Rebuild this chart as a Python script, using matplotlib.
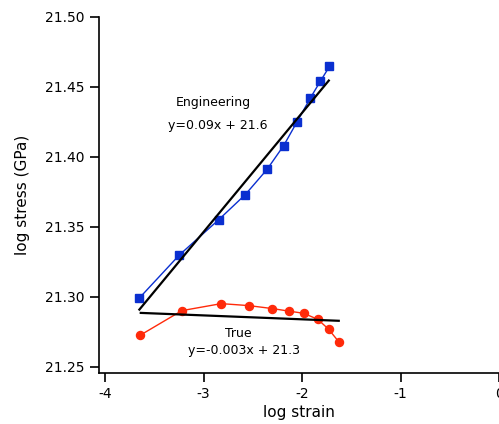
import matplotlib
matplotlib.use("Agg")
import matplotlib.pyplot as plt
import numpy as np

eng_x = [-3.654, -3.244, -2.847, -2.576, -2.355, -2.186, -2.050, -1.915, -1.813, -1.721]
eng_y = [21.299, 21.330, 21.355, 21.373, 21.391, 21.408, 21.425, 21.442, 21.454, 21.4645]
true_x = [-3.644, -3.220, -2.820, -2.542, -2.304, -2.128, -1.983, -1.840, -1.731, -1.627]
true_y = [21.2726, 21.2902, 21.2952, 21.2938, 21.2917, 21.2898, 21.2883, 21.2840, 21.2770, 21.2680]
eng_fit = (0.085, 21.6013)
true_fit = (-0.0028, 21.2784)
x_ticks = [-4, -3, -2, -1, 0]
y_ticks = [21.25, 21.30, 21.35, 21.40, 21.45, 21.50]

plt.rcParams['font.family'] = ['DejaVu Sans']
fig = plt.figure(figsize=(4.99, 4.24), dpi=100)
ax = fig.add_axes([99/499, 1 - 372.7/424, (499 - 99)/499, (372.7 - 16.7)/424])

blue = '#0a2fd0'
red = '#ff2a0a'
ax.plot(eng_x, eng_y, '-', color=blue, lw=1.0, marker='s', ms=6.2, zorder=3)
ax.plot(true_x, true_y, '-', color=red, lw=1.0, marker='o', ms=5.8, zorder=3)

ex = np.array([eng_x[0] + 0.003, eng_x[-1] - 0.007])
ax.plot(ex, eng_fit[0] * ex + eng_fit[1], color='black', lw=1.6, zorder=4)
tx = np.array([true_x[0] + 0.007, true_x[-1]])
ax.plot(tx, true_fit[0] * tx + true_fit[1], color='black', lw=1.6, zorder=4)

ax.text(-2.90, 21.4386, 'Engineering', ha='center', va='center', fontsize=9)
ax.text(-2.86, 21.4221, 'y=0.09x + 21.6', ha='center', va='center', fontsize=9)
ax.text(-2.65, 21.2741, 'True', ha='center', va='center', fontsize=9)
ax.text(-2.59, 21.2616, 'y=-0.003x + 21.3', ha='center', va='center', fontsize=9)

ax.set_xlim(-4.061, 0.0)
ax.set_ylim(21.2459, 21.50)
ax.set_xticks(x_ticks)
ax.set_xticklabels(['-4', '-3', '-2', '-1', '0'])
ax.set_yticks(y_ticks)
ax.set_yticklabels(['%.2f' % v for v in y_ticks])
ax.spines['top'].set_visible(False)
ax.spines['right'].set_visible(False)
for s in ['left', 'bottom']:
    ax.spines[s].set_linewidth(1.2)
ax.tick_params(direction='out', length=6.5, width=1.2, labelsize=10, pad=4)
ax.set_xlabel('log strain', fontsize=11, labelpad=3)
ax.set_ylabel('log stress (GPa)', fontsize=11, labelpad=11)
for lab in ax.get_xticklabels():
    lab.set_clip_on(False)

fig.savefig('out.png', dpi=100)
